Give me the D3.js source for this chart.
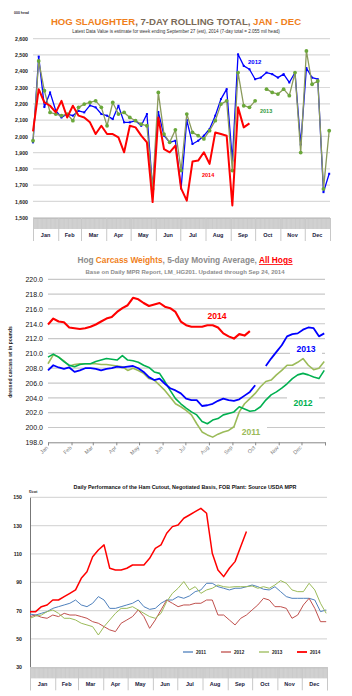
<!DOCTYPE html>
<html lang="en">
<head>
<meta charset="UTF-8">
<title>hogs</title>
<script src="https://d3js.org/d3.v7.min.js"></script>
<style>
  body { margin: 0; background: #fff; }
  text { font-family: "Liberation Sans", Arial, sans-serif; }
</style>
</head>
<body>
<svg width="352" height="696"></svg>
<script>
// ---- data (weekly readings, week 0 = first week of Jan) ----
var months = ['Jan','Feb','Mar','Apr','May','Jun','Jul','Aug','Sep','Oct','Nov','Dec'];
var monthStart = [0,31,59,90,120,151,181,212,243,273,304,334,365];

// chart 1: hog slaughter, 7-day rolling total (000 head)
var slaughterTicks = [1500,1600,1700,1800,1900,2000,2100,2200,2300,2400,2500,2600];
var slaughter2012 = [1963,2490,2180,2270,2157,2116,2137,2127,2157,2147,2190,2178,2137,2127,2106,2188,2086,2086,2096,2065,2137,1677,2150,2004,1963,1973,1680,2100,1953,1973,2004,2045,2127,2229,2290,1851,2504,2433,2412,2351,2361,2392,2382,2361,2382,2331,2392,1950,2420,2361,2351,1657,1770];
var slaughter2013 = [1973,2463,2280,2147,2137,2127,2137,2096,2178,2198,2208,2218,2178,2065,2208,2137,2147,2116,2096,2075,2065,1677,2270,2014,1963,2040,1790,2137,2024,2004,1984,2035,2096,2198,2218,1790,2392,2188,2178,2218,null,2290,2270,2260,2290,2250,2392,1900,2525,2320,2340,1677,2035];
var slaughter2014 = [2030,2290,2208,2188,2147,2218,2116,2188,2127,2116,2086,2014,2065,2014,2014,1994,1902,2065,2055,2004,1963,1596,2116,1922,1902,1943,1680,1605,1845,1851,1902,1831,2024,2014,2004,1575,2178,2055,2080];

// chart 2: carcass weights, 5-day moving average (lbs)
var weightTicks = [198,200,202,204,206,208,210,212,214,216,218,220];
var weight2011 = [208.6,209.8,209.5,209.0,208.3,208.5,208.6,208.6,208.6,208.6,208.5,208.5,208.4,208.3,208.2,207.7,208.0,207.7,207.3,206.6,206.4,205.7,205.0,204.1,203.2,202.8,202.3,201.7,200.5,199.4,199.0,198.7,199.1,199.4,199.6,200.1,202.1,203.2,203.9,204.6,205.5,206.2,206.4,207.1,207.7,208.4,208.4,208.8,209.3,208.4,207.8,208.0,208.9];
var weight2012 = [209.5,209.9,209.5,208.9,208.4,208.2,208.5,208.6,208.6,208.9,209.1,209.3,209.2,209.1,209.7,209.1,209.0,208.8,208.4,208.1,207.5,207.3,206.2,205.0,203.9,203.2,202.6,202.1,201.7,200.8,200.5,201.0,201.2,201.7,201.9,202.1,202.8,202.5,202.2,202.3,202.8,203.7,204.4,204.8,205.3,205.9,206.6,207.1,207.3,207.1,206.8,206.6,207.7];
var weight2013 = [207.7,208.4,208.1,207.9,208.1,207.5,207.7,208.0,208.0,207.9,207.7,207.9,208.0,208.2,208.1,208.2,208.3,208.0,207.5,206.8,206.4,206.6,205.9,205.3,205.0,204.6,203.9,203.7,203.7,202.9,203.0,203.2,203.6,203.9,203.7,203.6,203.8,204.3,204.8,205.7,null,208.3,209.3,210.2,211.1,212.3,212.6,212.7,213.2,213.5,213.4,212.3,212.7];
var weight2014 = [213.9,214.7,214.3,214.2,213.5,213.4,213.3,213.4,213.6,213.9,214.3,214.7,214.9,215.6,216.1,216.5,217.5,217.3,216.8,216.4,216.6,216.8,216.3,216.1,215.6,214.3,213.8,213.6,213.6,213.6,213.8,213.8,213.5,212.7,212.3,212.0,212.6,212.4,213.0];

// chart 3: ham cutout ($/cwt)
var hamTicks = [30,50,70,90,110,130,150];
var ham2011 = [67.6,66.9,68.1,69.3,71.6,72.8,74.0,75.2,77.5,74.0,72.8,75.2,79.9,77.5,71.6,71.6,72.8,74.0,75.2,77.5,72.8,70.9,71.6,75.2,77.5,77.5,79.9,78.7,80.4,83.4,84.6,89.3,89.3,86.9,85.8,84.6,85.8,85.8,86.9,88.1,86.9,85.1,84.6,86.9,83.4,79.9,78.7,78.7,78.7,78.7,77.5,69.3,70.5];
var ham2012 = [65.8,66.9,65.3,64.6,66.9,65.8,68.1,66.9,66.9,65.8,64.6,62.2,61.1,58.7,56.4,55.2,61.1,63.4,65.8,70.5,65.8,57.5,63.4,70.5,77.5,75.2,72.8,74.0,74.0,75.2,75.2,77.5,77.5,66.9,66.9,63.4,59.9,64.6,66.9,70.5,74.0,78.7,77.5,72.8,72.8,71.6,64.6,66.9,74.0,78.7,71.6,62.2,62.2];
var ham2013 = [64.6,66.2,66.9,69.3,70.5,68.1,64.6,64.6,63.4,61.1,59.9,58.7,52.8,58.7,63.4,68.1,71.6,71.6,72.8,70.5,68.1,65.8,64.6,68.1,76.4,82.2,85.8,90.5,84.6,86.9,82.2,84.6,85.8,88.1,86.9,86.5,86.9,86.9,86.9,87.4,85.8,86.9,85.8,88.1,91.2,89.3,84.6,83.4,83.4,89.3,84.6,75.2,68.1];
var ham2014 = [69.3,69.3,72.8,74.0,77.5,77.5,79.9,82.2,84.6,92.8,97.5,108.1,112.8,116.4,99.9,98.7,98.7,99.9,102.2,102.2,102.2,106.9,114.0,116.4,124.6,129.3,130.5,135.2,137.5,139.9,142.2,138.7,110.5,98.7,94.0,99.9,104.6,115.2,125.8];

var svg = d3.select('svg');
svg.append('rect').attr('width',352).attr('height',696).attr('fill','#fff');

function dayOf(i) { return i * 7; }

function drawLine(g, x, y, vals, color, width) {
    var line = d3.line()
        .defined(function (d) { return d != null; })
        .x(function (d, i) { return x(dayOf(i)); })
        .y(function (d) { return y(d); });
    g.append('path').datum(vals)
        .attr('d', line)
        .attr('fill','none')
        .attr('stroke',color)
        .attr('stroke-width',width)
        .attr('stroke-linejoin','round');
}

function grid(g, x, y, ticks, color) {
    g.selectAll('.gl').data(ticks).enter().append('line')
        .attr('x1', x.range()[0]).attr('x2', x.range()[1])
        .attr('y1', function (d) { return y(d); })
        .attr('y2', function (d) { return y(d); })
        .attr('stroke', color).attr('stroke-width', 1.2);
}

// excel style date band under charts 1 and 3
function dateBand(g, x, top) {
    g.append('rect').attr('x', x.range()[0]).attr('y', top)
        .attr('width', x.range()[1] - x.range()[0]).attr('height', 11)
        .attr('fill', '#eeeeee');
    var dayAxis = d3.axisBottom(x).tickValues(d3.range(0, 366)).tickSize(11).tickFormat('');
    var ga = g.append('g').attr('transform','translate(0,' + top + ')').call(dayAxis);
    ga.select('.domain').remove();
    ga.selectAll('line').attr('stroke','#b4b4b4').attr('stroke-width',0.5);
    var monAxis = d3.axisBottom(x).tickValues(monthStart).tickSize(23).tickFormat('');
    var gm = g.append('g').attr('transform','translate(0,' + top + ')').call(monAxis);
    gm.select('.domain').attr('stroke','#bfbfbf');
    gm.selectAll('line').attr('stroke','#c8c8c8');
    g.selectAll('.ml').data(months).enter().append('text')
        .attr('x', function (d, i) { return x((monthStart[i] + monthStart[i+1]) / 2); })
        .attr('y', top + 19)
        .attr('text-anchor','middle')
        .attr('font-size', 5.5).attr('font-weight','bold').attr('fill','#1a1a40')
        .text(function (d) { return d; });
}

// ================= chart 1 =================
var g1 = svg.append('g');
var x1 = d3.scaleLinear().domain([0,365]).range([33,330]);
var y1 = d3.scaleLinear().domain([1500,2600]).range([217.7,38.7]);

var t1 = g1.append('text').attr('x',176).attr('y',25).attr('text-anchor','middle')
    .attr('font-size',9.6).attr('font-weight','bold');
t1.append('tspan').attr('fill','#f07f1b').text('HOG SLAUGHTER');
t1.append('tspan').attr('fill','#7a6a58').text(', 7-DAY ROLLING TOTAL, ');
t1.append('tspan').attr('fill','#f07f1b').text('JAN - DEC');
g1.append('text').attr('x',176).attr('y',33).attr('text-anchor','middle')
    .attr('font-size',4.6).attr('fill','#333')
    .text('Latest Data Value is estimate for week ending September 27 (est), 2014 (7-day total = 2.055 mil head)');
g1.append('text').attr('x',14).attr('y',14).attr('font-size',3.5).attr('font-weight','bold')
    .attr('fill','#333').text('000 head');

grid(g1, x1, y1, slaughterTicks, '#d9d9d9');
var ya1 = g1.append('g').attr('transform','translate(31,0)')
    .call(d3.axisLeft(y1).tickValues(slaughterTicks).tickSize(0).tickFormat(d3.format(',')));
ya1.select('.domain').remove();
ya1.selectAll('text').attr('font-size',5.2).attr('font-weight','bold').attr('fill','#222')
    .attr('font-family','Liberation Sans, Arial, sans-serif');
dateBand(g1, x1, 218);

drawLine(g1, x1, y1, slaughter2012, '#0000ff', 1.3);
g1.selectAll('.m12').data(slaughter2012.map(function (d, i) { return [i, d]; }))
    .enter().append('rect')
    .attr('x', function (d) { return x1(dayOf(d[0])) - 1; })
    .attr('y', function (d) { return y1(d[1]) - 1; })
    .attr('width',2).attr('height',2).attr('fill','#0000ff');
drawLine(g1, x1, y1, slaughter2013, '#8a9a5b', 1.3);
g1.selectAll('.m13').data(slaughter2013.map(function (d, i) { return [i, d]; })
        .filter(function (d) { return d[1] != null; }))
    .enter().append('circle')
    .attr('cx', function (d) { return x1(dayOf(d[0])); })
    .attr('cy', function (d) { return y1(d[1]); })
    .attr('r',1.9).attr('fill','#6aa83a');
drawLine(g1, x1, y1, slaughter2014, '#ff0000', 2);

g1.append('text').attr('x',248).attr('y',64).attr('font-size',6).attr('font-weight','bold')
    .attr('fill','#0000ff').text('2012');
g1.append('text').attr('x',260).attr('y',113).attr('font-size',5.5).attr('font-weight','bold')
    .attr('fill','#2e9a3a').text('2013');
g1.append('text').attr('x',202).attr('y',177).attr('font-size',5.5).attr('font-weight','bold')
    .attr('fill','#ff0000').text('2014');

// ================= chart 2 =================
var g2 = svg.append('g');
var x2 = d3.scaleLinear().domain([0,365]).range([48,325]);
var y2 = d3.scaleLinear().domain([198,220]).range([442.3,279.3]);

var t2 = g2.append('text').attr('x',185).attr('y',263).attr('text-anchor','middle')
    .attr('font-size',8.3).attr('font-weight','bold').attr('font-family','Lato, sans-serif');
t2.append('tspan').attr('fill','#8c8c8c').text('Hog ');
t2.append('tspan').attr('fill','#f07f1b').text('Carcass Weights');
t2.append('tspan').attr('fill','#8c8c8c').text(', 5-day Moving Average, ');
t2.append('tspan').attr('fill','#ff0000').attr('text-decoration','underline').text('All Hogs');
g2.append('text').attr('x',185).attr('y',274).attr('text-anchor','middle')
    .attr('font-size',6).attr('font-weight','bold').attr('fill','#8c8c8c')
    .attr('font-family','Lato, sans-serif')
    .text('Base on Daily MPR Report, LM_HG201.  Updated through Sep 24, 2014');

grid(g2, x2, y2, weightTicks.slice(1), '#c8c8c8');
var ya2 = g2.append('g').attr('transform','translate(46,0)')
    .call(d3.axisLeft(y2).tickValues(weightTicks).tickSize(0).tickFormat(d3.format('.1f')));
ya2.select('.domain').remove();
ya2.selectAll('text').attr('font-size',7).attr('fill','#111')
    .attr('font-family','Lato, sans-serif');
var xa2 = g2.append('g').attr('transform','translate(0,442.3)')
    .call(d3.axisBottom(x2).tickValues(monthStart).tickSize(3).tickFormat(''));
xa2.selectAll('line, path').attr('stroke','#888');
g2.selectAll('.ml').data(months).enter().append('text')
    .attr('transform', function (d, i) {
        return 'translate(' + (x2(monthStart[i]) + 0.5) + ',448) rotate(-45)';
    })
    .attr('text-anchor','end')
    .attr('font-size',5.4).attr('fill','#808080').attr('font-family','Lato, sans-serif')
    .text(function (d) { return d; });
g2.append('text').attr('transform','translate(12,362) rotate(-90)')
    .attr('text-anchor','middle').attr('font-size',5).attr('font-weight','bold')
    .attr('fill','#222').text('dressed carcass wt in pounds');

drawLine(g2, x2, y2, weight2011, '#9bbb59', 1.6);
drawLine(g2, x2, y2, weight2012, '#00b050', 1.6);
drawLine(g2, x2, y2, weight2013, '#0000ff', 1.8);
drawLine(g2, x2, y2, weight2014, '#ff0000', 2.1);

var lab2 = [
    {t:'2014', x:217, y:319, c:'#ff0000'},
    {t:'2013', x:306, y:352, c:'#0000ff'},
    {t:'2012', x:303, y:406, c:'#00b050'},
    {t:'2011', x:251, y:435, c:'#9bbb59'}
];
lab2.forEach(function (d) {
    g2.append('rect').attr('x', d.x - 16).attr('y', d.y - 9).attr('width',32).attr('height',11)
        .attr('fill','#fff');
    g2.append('text').attr('x', d.x).attr('y', d.y).attr('text-anchor','middle')
        .attr('font-size',8.6).attr('font-weight','bold').attr('fill', d.c)
        .attr('font-family','Lato, sans-serif').text(d.t);
});

// ================= chart 3 =================
var g3 = svg.append('g');
var x3 = d3.scaleLinear().domain([0,365]).range([30,327]);
var y3 = d3.scaleLinear().domain([30,150]).range([667.3,497.3]);

g3.append('text').attr('x',185).attr('y',489).attr('text-anchor','middle')
    .attr('font-size',5.4).attr('font-weight','bold').attr('fill','#111')
    .text('Daily Performance of the Ham Cutout, Negotiated Basis, FOB Plant: Source USDA MPR');
g3.append('text').attr('x',29).attr('y',493).attr('font-size',3.4).attr('font-weight','bold')
    .attr('fill','#333').text('$/cwt');

grid(g3, x3, y3, hamTicks.slice(1), '#d9d9d9');
var ya3 = g3.append('g').attr('transform','translate(30,0)')
    .call(d3.axisLeft(y3).tickValues(hamTicks).tickSize(0).tickPadding(8));
ya3.select('.domain').attr('stroke','#777');
ya3.selectAll('text').attr('font-size',5.2).attr('font-weight','bold').attr('fill','#222')
    .attr('font-family','Liberation Sans, Arial, sans-serif');
dateBand(g3, x3, 667.3);

var hamSeries = [
    {name:'2011', vals:ham2011, c:'#4f81bd', w:1},
    {name:'2012', vals:ham2012, c:'#c0504d', w:1},
    {name:'2013', vals:ham2013, c:'#9bbb59', w:1},
    {name:'2014', vals:ham2014, c:'#ff0000', w:1.5}
];
hamSeries.forEach(function (s, i) {
    drawLine(g3, x3, y3, s.vals, s.c, s.w);
    var lx = 183 + i * 38;
    g3.append('line').attr('x1', lx).attr('x2', lx + 10).attr('y1',652).attr('y2',652)
        .attr('stroke', s.c).attr('stroke-width', s.w + 0.3);
    g3.append('text').attr('x', lx + 13).attr('y', 654).attr('font-size',4.6)
        .attr('font-weight','bold').attr('fill','#222').text(s.name);
});
</script>
</body>
</html>
